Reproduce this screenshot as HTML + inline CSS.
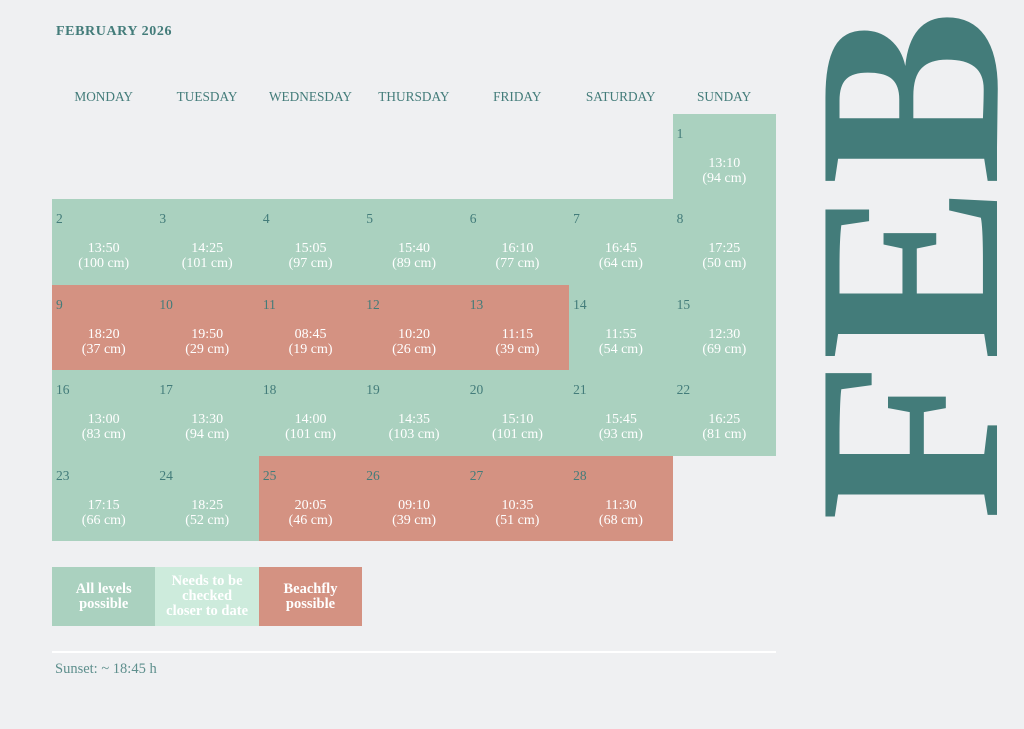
<!DOCTYPE html>
<html><head><meta charset="utf-8"><style>
body{margin:0;width:1024px;height:729px;background:#eff0f2;font-family:"Liberation Serif",serif;position:relative;overflow:hidden}
.a{position:absolute}
.t{position:absolute;left:56px;top:24px;font-size:14px;font-weight:bold;color:#437c7a;letter-spacing:0.6px}
.h{position:absolute;top:89px;width:103.4px;text-align:center;font-size:13.3px;color:#437c7a}
.c{position:absolute;width:103.5px;height:85.5px;color:#fff}
.g{background:#aad1bf}.r{background:#d49282}
.c .n{position:absolute;left:4px;top:12px;font-size:13.5px;color:#437c7a}
.c .v{position:absolute;left:0;right:0;top:42px;text-align:center;font-size:14px;line-height:15px}
.l{position:absolute;top:567px;width:103.4px;height:59px;color:#fff;font-weight:bold;font-size:14.5px;line-height:15px;display:flex;align-items:center;justify-content:center;text-align:center}
</style></head><body>
<div class="t">FEBRUARY 2026</div>
<div class="h" style="left:52px">MONDAY</div>
<div class="h" style="left:155.4px">TUESDAY</div>
<div class="h" style="left:258.8px">WEDNESDAY</div>
<div class="h" style="left:362.2px">THURSDAY</div>
<div class="h" style="left:465.6px">FRIDAY</div>
<div class="h" style="left:569px">SATURDAY</div>
<div class="h" style="left:672.4px">SUNDAY</div>
<div id="grid"></div>
<div class="l" style="left:52px;background:#aad1bf">All levels<br>possible</div>
<div class="l" style="left:155.4px;background:#cdebdc">Needs to be<br>checked<br>closer to date</div>
<div class="l" style="left:258.8px;background:#d49282">Beachfly<br>possible</div>
<div class="a" style="left:52px;top:651px;width:724px;height:2px;background:#fff"></div>
<div class="a" style="left:55px;top:661px;font-size:14.5px;color:#5e8f8d">Sunset: ~ 18:45 h</div>
<svg class="a" style="left:0;top:0" width="1024" height="729"><text transform="translate(997,521) rotate(-90)" font-family="Liberation Serif" font-weight="bold" font-size="262" fill="#437c7a" textLength="511" lengthAdjust="spacingAndGlyphs">FEB</text></svg>
<script>
var d=[[1,6,0,"13:10","94",'g'],
[2,0,1,"13:50","100",'g'],[3,1,1,"14:25","101",'g'],[4,2,1,"15:05","97",'g'],[5,3,1,"15:40","89",'g'],[6,4,1,"16:10","77",'g'],[7,5,1,"16:45","64",'g'],[8,6,1,"17:25","50",'g'],
[9,0,2,"18:20","37",'r'],[10,1,2,"19:50","29",'r'],[11,2,2,"08:45","19",'r'],[12,3,2,"10:20","26",'r'],[13,4,2,"11:15","39",'r'],[14,5,2,"11:55","54",'g'],[15,6,2,"12:30","69",'g'],
[16,0,3,"13:00","83",'g'],[17,1,3,"13:30","94",'g'],[18,2,3,"14:00","101",'g'],[19,3,3,"14:35","103",'g'],[20,4,3,"15:10","101",'g'],[21,5,3,"15:45","93",'g'],[22,6,3,"16:25","81",'g'],
[23,0,4,"17:15","66",'g'],[24,1,4,"18:25","52",'g'],[25,2,4,"20:05","46",'r'],[26,3,4,"09:10","39",'r'],[27,4,4,"10:35","51",'r'],[28,5,4,"11:30","68",'r']];
var h='';d.forEach(function(e){h+='<div class="c '+e[5]+'" style="left:'+(52+e[1]*103.43)+'px;top:'+(114+e[2]*85.4)+'px"><span class="n">'+e[0]+'</span><div class="v">'+e[3]+'<br>('+e[4]+' cm)</div></div>'});
document.getElementById('grid').innerHTML=h;
</script>
</body></html>
